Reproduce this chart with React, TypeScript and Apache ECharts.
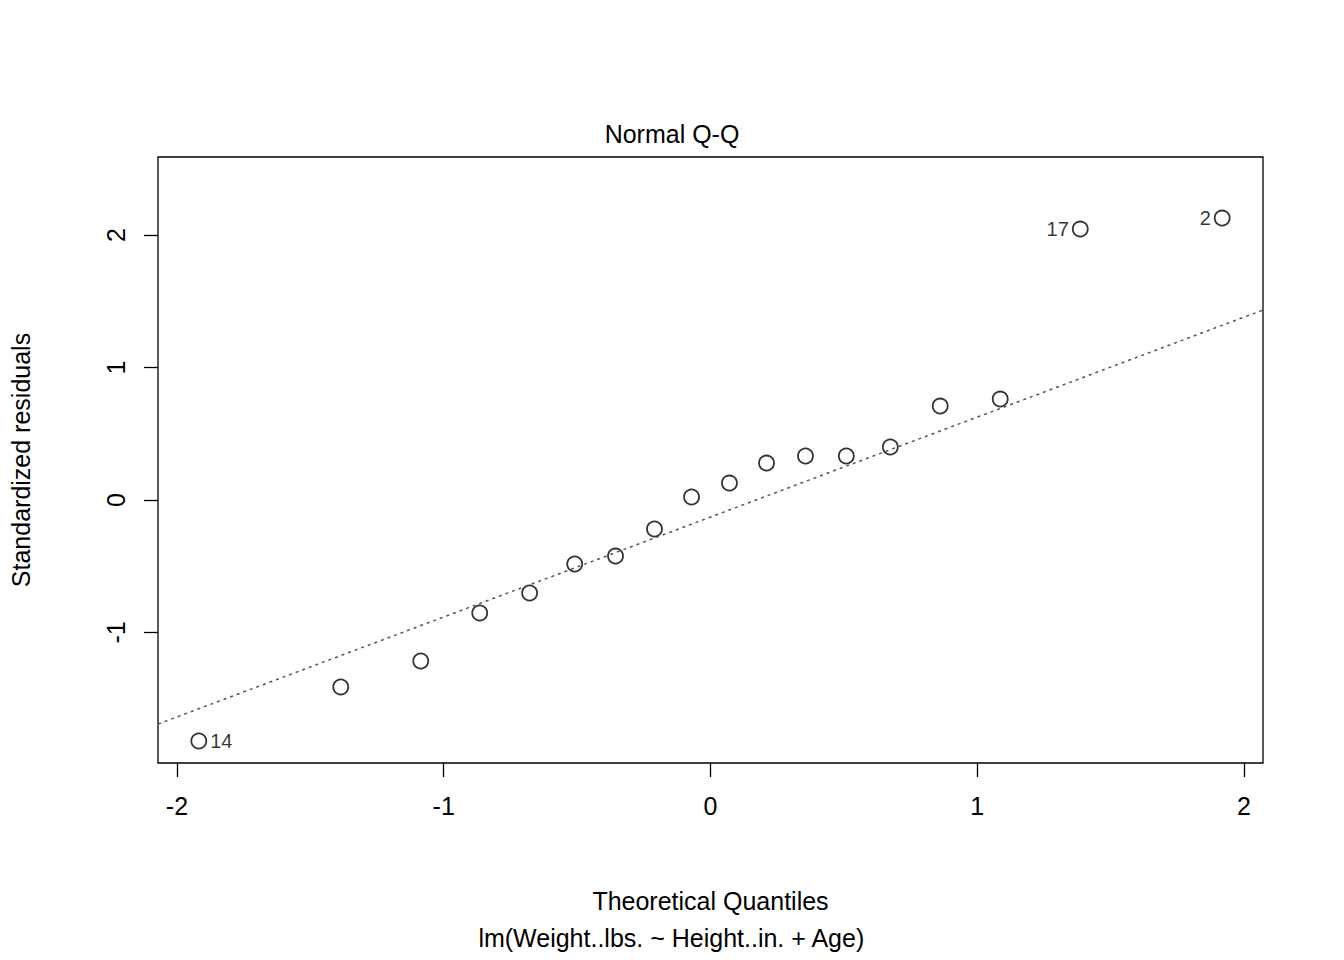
import React, { useEffect, useRef } from "react";
import * as echarts from "echarts";

const theoretical = [-1.918, -1.386, -1.086, -0.865, -0.678, -0.509, -0.356, -0.21, -0.071, 0.071, 0.21, 0.356, 0.509, 0.674, 0.861, 1.086, 1.386, 1.918];
const residuals = [-1.819, -1.411, -1.215, -0.853, -0.702, -0.483, -0.423, -0.219, 0.023, 0.128, 0.279, 0.332, 0.332, 0.4, 0.709, 0.762, 2.045, 2.128];
const pointLabels = ["14", "", "", "", "", "", "", "", "", "", "", "", "", "", "", "", "17", "2"];
const lineX = [-2.071, 2.071];
const lineY = [-1.691, 1.434];
const xTicks = [-2, -1, 0, 1, 2];
const yTicks = [-1, 0, 1, 2];

const font = "Liberation Sans, Arial, Helvetica, sans-serif";

export default function App() {
  const ref = useRef<HTMLDivElement>(null);
  useEffect(() => {
    document.body.style.margin = "0";
    const chart = echarts.init(ref.current!, null, { renderer: "svg" });
    chart.setOption({
      animation: false,
      backgroundColor: "#fff",
      title: {
        text: "Normal Q-Q",
        left: "center",
        top: 116,
        textStyle: { fontFamily: font, fontWeight: "normal", fontSize: 25, color: "#000" },
      },
      grid: { left: 157, right: 81, top: 157, bottom: 197, show: true, borderColor: "#000", borderWidth: 1.3 },
      xAxis: {
        type: "value",
        min: -2.071,
        max: 2.071,
        axisLine: { show: false, onZero: false },
        splitLine: { show: false },
        axisTick: { show: true, length: 14, customValues: xTicks, lineStyle: { color: "#000", width: 1.3 } },
        axisLabel: { customValues: xTicks, fontFamily: font, fontSize: 25, color: "#000", margin: 30 },
        name: "Theoretical Quantiles",
        nameLocation: "middle",
        nameGap: 125,
        nameTextStyle: { fontFamily: font, fontSize: 25, color: "#000" },
      },
      yAxis: {
        type: "value",
        min: -1.985,
        max: 2.589,
        axisLine: { show: false, onZero: false },
        splitLine: { show: false },
        axisTick: { show: true, length: 14, customValues: yTicks, lineStyle: { color: "#000", width: 1.3 } },
        axisLabel: { customValues: yTicks, rotate: 90, fontFamily: font, fontSize: 25, color: "#000", margin: 30 },
        name: "Standardized residuals",
        nameLocation: "middle",
        nameGap: 125,
        nameTextStyle: { fontFamily: font, fontSize: 25, color: "#000" },
      },
      graphic: [
        {
          type: "text",
          left: "center",
          top: 925,
          style: { text: "lm(Weight..lbs. ~ Height..in. + Age)", font: `25px ${font}`, fill: "#000" },
        },
      ],
      series: [
        {
          type: "line",
          data: lineX.map((x, i) => [x, lineY[i]]),
          symbol: "none",
          lineStyle: { color: "#555", width: 1.5, type: [3, 4] },
          silent: true,
        },
        {
          type: "scatter",
          symbol: "circle",
          symbolSize: 15,
          itemStyle: { color: "#fff", borderColor: "#000", borderWidth: 1.8 },
          data: theoretical.map((x, i) => ({
            value: [x, residuals[i]],
            label: {
              show: pointLabels[i] !== "",
              formatter: pointLabels[i],
              position: i === 0 ? "right" : "left",
              distance: 3,
              fontFamily: font,
              fontSize: 20,
              color: "#000",
            },
          })),
        },
      ],
    });
    return () => chart.dispose();
  }, []);
  return <div ref={ref} style={{ width: 1344, height: 960 }} />;
}
